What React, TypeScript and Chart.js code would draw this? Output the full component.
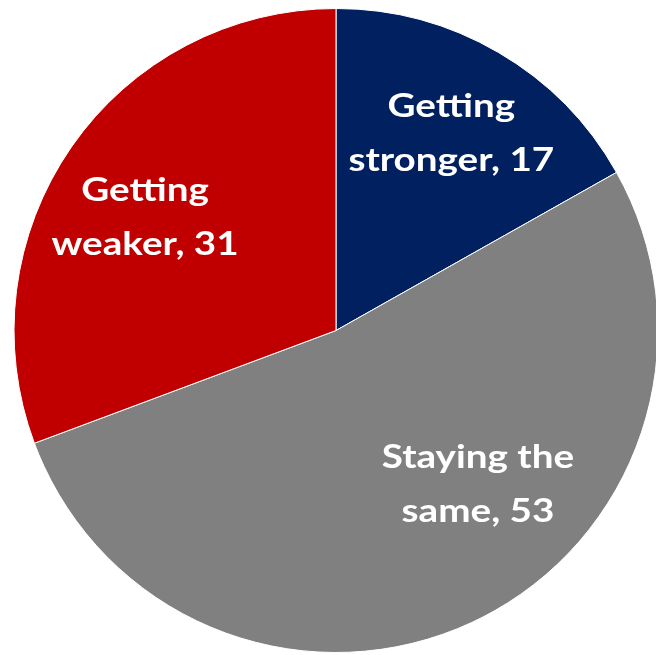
import React, { useEffect, useRef } from "react";
import { Chart, registerables } from "chart.js";

Chart.register(...registerables);

const categories = ["Getting stronger", "Staying the same", "Getting weaker"];
const values = [17, 53, 31];
const colors = ["#002060", "#808080", "#C00000"];
const labelLines = [
  ["Getting", "stronger, 17"],
  ["Staying the", "same, 53"],
  ["Getting", "weaker, 31"],
];

const labelPlugin = {
  id: "sliceLabels",
  afterDatasetsDraw(chart: any) {
    const meta = chart.getDatasetMeta(0);
    const ctx = chart.ctx;
    const angleShift = [0, -0.31, -0.07];
    const radFrac = [0.71, 0.65, 0.69];
    const sx = 1.17;
    ctx.save();
    ctx.fillStyle = "#ffffff";
    ctx.font = "bold 33px Lato";
    ctx.textAlign = "center";
    ctx.textBaseline = "alphabetic";
    meta.data.forEach((arc: any, i: number) => {
      const mid = (arc.startAngle + arc.endAngle) / 2 + angleShift[i];
      const r = arc.outerRadius * radFrac[i];
      const cx = arc.x + Math.cos(mid) * r;
      const cy = arc.y + Math.sin(mid) * r;
      const lines = labelLines[i];
      const lh = 54;
      lines.forEach((t, j) => {
        const y = cy + (j - (lines.length - 1) / 2) * lh + 11;
        ctx.save();
        ctx.translate(cx, y);
        ctx.scale(sx, 1);
        ctx.fillText(t, 0, 0);
        ctx.restore();
      });
    });
    ctx.restore();
  },
};

export default function App() {
  const ref = useRef<HTMLCanvasElement | null>(null);
  useEffect(() => {
    if (!ref.current) return;
    const chart = new Chart(ref.current, {
      type: "pie",
      data: {
        labels: categories,
        datasets: [
          {
            data: values,
            backgroundColor: colors,
            borderColor: "#ffffff",
            borderWidth: 1,
          },
        ],
      },
      options: {
        responsive: false,
        animation: false,
        plugins: {
          legend: { display: false },
          tooltip: { enabled: false },
        },
        layout: { padding: 0 },
      },
      plugins: [labelPlugin],
    });
    return () => chart.destroy();
  }, []);
  return (
    <div
      style={{
        position: "fixed",
        left: 8,
        top: 8,
        width: 648,
        height: 647,
        overflow: "hidden",
      }}
    >
      <canvas ref={ref} width={656} height={645} style={{ display: "block" }} />
    </div>
  );
}
